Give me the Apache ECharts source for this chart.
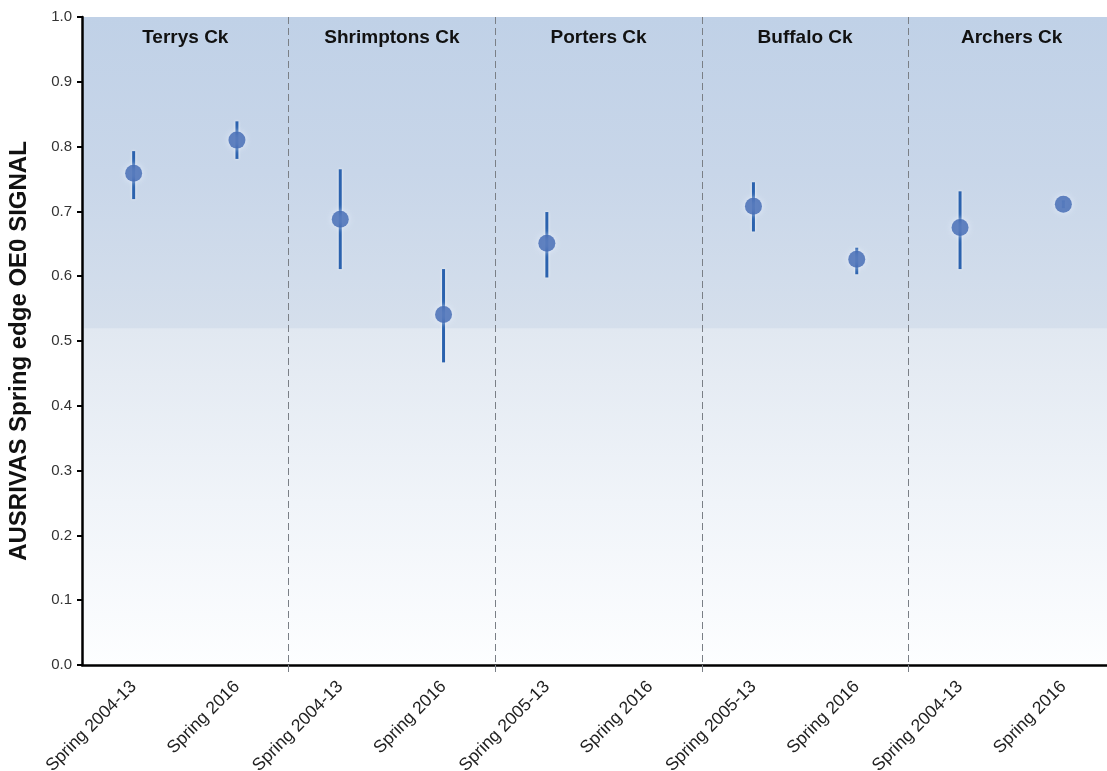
<!DOCTYPE html>
<html>
<head>
<meta charset="utf-8">
<script src="https://cdn.jsdelivr.net/npm/echarts@6/dist/echarts.min.js"></script>
<style>
  html, body { margin: 0; padding: 0; background: #ffffff; overflow: hidden; }
  /* The plot runs slightly past the right edge of the page, so the last group is cut off */
  #chart { width: 1117px; height: 771px; }
</style>
</head>
<body>
<div id="chart"></div>
<script>
// Sampling periods, two per creek
const categories = [
  'Spring 2004-13', 'Spring 2016',
  'Spring 2004-13', 'Spring 2016',
  'Spring 2005-13', 'Spring 2016',
  'Spring 2005-13', 'Spring 2016',
  'Spring 2004-13', 'Spring 2016'
];
const creeks = ['Terrys Ck', 'Shrimptons Ck', 'Porters Ck', 'Buffalo Ck', 'Archers Ck'];

// Mean OE0 SIGNAL with lower / upper limits (null = not sampled)
const means = [0.759, 0.810, 0.688, 0.541, 0.651, null, 0.708, 0.626, 0.675, 0.711];
const lower = [0.719, 0.781, 0.611, 0.467, 0.598, null, 0.669, 0.603, 0.611, 0.705];
const upper = [0.793, 0.839, 0.765, 0.611, 0.699, null, 0.745, 0.644, 0.731, 0.717];

const yTicks = [0, 0.1, 0.2, 0.3, 0.4, 0.5, 0.6, 0.7, 0.8, 0.9, 1.0];

const pointData = means.map((v, i) => (v == null ? null : [i, v]));
const barData = means
  .map((v, i) => (v == null ? null : [i, lower[i], upper[i]]))
  .filter(d => d !== null);

// Group separators sit on every second category boundary (not the outer edges)
const isGroupEdge = (idx) => idx % 2 === 0 && idx > 0 && idx < categories.length;

const chart = echarts.init(document.getElementById('chart'), null, { renderer: 'canvas' });

const option = {
  backgroundColor: '#ffffff',
  animation: false,
  grid: {
    left: 82,
    right: 2,
    top: 17,
    bottom: 106,
    outerBoundsMode: 'none',
    containLabel: false,
    show: true,
    borderWidth: 0,
    backgroundColor: {
      type: 'linear', x: 0, y: 0, x2: 0, y2: 1,
      colorStops: [
        { offset: 0, color: '#c0d1e7' },
        { offset: 0.24, color: '#c8d6e9' },
        { offset: 0.48, color: '#d5dfec' },
        { offset: 0.481, color: '#e1e8f1' },
        { offset: 0.75, color: '#f0f4f9' },
        { offset: 1, color: '#fdfeff' }
      ]
    }
  },
  xAxis: [
    {
      type: 'category',
      data: categories,
      boundaryGap: true,
      axisLine: { show: true, lineStyle: { color: '#000000', width: 2.5 } },
      axisTick: {
        show: true,
        inside: false,
        length: 11,
        interval: isGroupEdge,
        lineStyle: { color: '#7a7f86', width: 1, type: [7, 4] }
      },
      splitLine: {
        show: true,
        interval: isGroupEdge,
        lineStyle: { color: '#7a7f86', width: 1, type: [7, 4] }
      },
      axisLabel: {
        interval: 0,
        rotate: 45,
        margin: 19,
        color: '#222222',
        fontSize: 17.5,
        fontFamily: 'Liberation Sans, Arial, sans-serif'
      }
    },
    {
      type: 'category',
      data: creeks,
      position: 'top',
      boundaryGap: true,
      axisLine: { show: false },
      axisTick: { show: false },
      splitLine: { show: false },
      axisLabel: {
        inside: true,
        interval: 0,
        margin: 11,
        verticalAlign: 'top',
        color: '#111111',
        fontSize: 19,
        fontWeight: 'bold',
        fontFamily: 'Liberation Sans, Arial, sans-serif'
      }
    }
  ],
  yAxis: {
    type: 'value',
    min: yTicks[0],
    max: yTicks[yTicks.length - 1],
    interval: 0.1,
    name: 'AUSRIVAS Spring edge OE0 SIGNAL',
    nameLocation: 'middle',
    nameGap: 51,
    nameTextStyle: {
      color: '#111111',
      fontSize: 24,
      fontWeight: 'bold',
      fontFamily: 'Liberation Sans, Arial, sans-serif',
      padding: [0, 20, 0, 0]
    },
    axisLine: { show: true, lineStyle: { color: '#000000', width: 2.5 } },
    axisTick: { show: true, inside: false, length: 5, lineStyle: { color: '#000000', width: 2 } },
    splitLine: { show: false },
    axisLabel: {
      margin: 10,
      color: '#333333',
      fontSize: 15,
      fontFamily: 'Liberation Sans, Arial, sans-serif',
      formatter: (v) => v.toFixed(1)
    }
  },
  series: [
    {
      name: 'range',
      type: 'custom',
      xAxisIndex: 0,
      data: barData,
      z: 3,
      renderItem: (params, api) => {
        const x = api.value(0);
        const top = api.coord([x, api.value(2)]);
        const bot = api.coord([x, api.value(1)]);
        return {
          type: 'line',
          shape: { x1: top[0], y1: top[1], x2: bot[0], y2: bot[1] },
          style: {
            stroke: '#2b62ae',
            lineWidth: 3,
            shadowBlur: 3,
            shadowColor: 'rgba(255,255,255,0.8)'
          }
        };
      }
    },
    {
      name: 'mean',
      type: 'scatter',
      xAxisIndex: 0,
      data: pointData,
      symbol: 'circle',
      symbolSize: 17,
      z: 4,
      itemStyle: {
        color: '#3f66b1',
        shadowBlur: 6,
        shadowColor: 'rgba(235,242,255,0.9)'
      }
    }
  ]
};

chart.setOption(option);
</script>
</body>
</html>
